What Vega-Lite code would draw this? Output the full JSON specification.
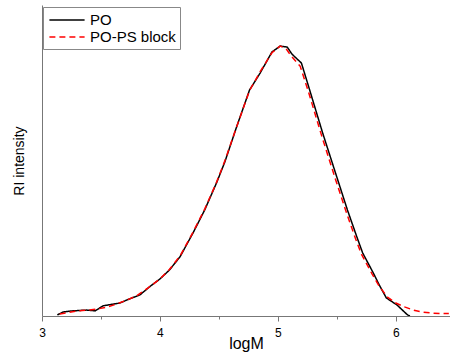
{
  "$schema": "https://vega.github.io/schema/vega-lite/v6.json",
  "width": 408,
  "height": 311,
  "autosize": {"type": "none"},
  "padding": {"left": 42, "top": 5, "right": 0, "bottom": 36},
  "background": "white",
  "config": {
    "view": {"stroke": null},
    "font": "Liberation Sans",
    "axis": {"grid": false, "domainColor": "#777", "tickColor": "#777", "labelColor": "#000", "titleColor": "#000", "titleFontWeight": "normal", "labelFontSize": 12, "titleFontSize": 14, "labelFont": "Liberation Sans", "titleFont": "Liberation Sans"}
  },
  "data": {"values": [
    {"logM": 3.13, "I": 0.004, "s": "PO"},
    {"logM": 3.18, "I": 0.015, "s": "PO"},
    {"logM": 3.26, "I": 0.019, "s": "PO"},
    {"logM": 3.38, "I": 0.022, "s": "PO"},
    {"logM": 3.45, "I": 0.019, "s": "PO"},
    {"logM": 3.52, "I": 0.038, "s": "PO"},
    {"logM": 3.66, "I": 0.048, "s": "PO"},
    {"logM": 3.74, "I": 0.063, "s": "PO"},
    {"logM": 3.83, "I": 0.078, "s": "PO"},
    {"logM": 3.92, "I": 0.111, "s": "PO"},
    {"logM": 4.00, "I": 0.137, "s": "PO"},
    {"logM": 4.08, "I": 0.17, "s": "PO"},
    {"logM": 4.17, "I": 0.219, "s": "PO"},
    {"logM": 4.28, "I": 0.307, "s": "PO"},
    {"logM": 4.38, "I": 0.393, "s": "PO"},
    {"logM": 4.48, "I": 0.493, "s": "PO"},
    {"logM": 4.55, "I": 0.57, "s": "PO"},
    {"logM": 4.65, "I": 0.7, "s": "PO"},
    {"logM": 4.76, "I": 0.837, "s": "PO"},
    {"logM": 4.85, "I": 0.9, "s": "PO"},
    {"logM": 4.95, "I": 0.978, "s": "PO"},
    {"logM": 5.02, "I": 1.0, "s": "PO"},
    {"logM": 5.08, "I": 0.996, "s": "PO"},
    {"logM": 5.12, "I": 0.97, "s": "PO"},
    {"logM": 5.20, "I": 0.937, "s": "PO"},
    {"logM": 5.27, "I": 0.837, "s": "PO"},
    {"logM": 5.38, "I": 0.678, "s": "PO"},
    {"logM": 5.50, "I": 0.515, "s": "PO"},
    {"logM": 5.59, "I": 0.393, "s": "PO"},
    {"logM": 5.67, "I": 0.293, "s": "PO"},
    {"logM": 5.72, "I": 0.233, "s": "PO"},
    {"logM": 5.81, "I": 0.159, "s": "PO"},
    {"logM": 5.86, "I": 0.115, "s": "PO"},
    {"logM": 5.92, "I": 0.067, "s": "PO"},
    {"logM": 6.01, "I": 0.041, "s": "PO"},
    {"logM": 6.10, "I": 0.004, "s": "PO"},
    {"logM": 6.12, "I": 0.0, "s": "PO"},
    {"logM": 3.15, "I": 0.007, "s": "PO-PS block"},
    {"logM": 3.2, "I": 0.011, "s": "PO-PS block"},
    {"logM": 3.3, "I": 0.019, "s": "PO-PS block"},
    {"logM": 3.4, "I": 0.022, "s": "PO-PS block"},
    {"logM": 3.47, "I": 0.026, "s": "PO-PS block"},
    {"logM": 3.55, "I": 0.033, "s": "PO-PS block"},
    {"logM": 3.63, "I": 0.044, "s": "PO-PS block"},
    {"logM": 3.72, "I": 0.059, "s": "PO-PS block"},
    {"logM": 3.8, "I": 0.074, "s": "PO-PS block"},
    {"logM": 3.9, "I": 0.104, "s": "PO-PS block"},
    {"logM": 4.0, "I": 0.137, "s": "PO-PS block"},
    {"logM": 4.08, "I": 0.172, "s": "PO-PS block"},
    {"logM": 4.17, "I": 0.222, "s": "PO-PS block"},
    {"logM": 4.28, "I": 0.31, "s": "PO-PS block"},
    {"logM": 4.38, "I": 0.396, "s": "PO-PS block"},
    {"logM": 4.48, "I": 0.495, "s": "PO-PS block"},
    {"logM": 4.55, "I": 0.574, "s": "PO-PS block"},
    {"logM": 4.65, "I": 0.7, "s": "PO-PS block"},
    {"logM": 4.76, "I": 0.835, "s": "PO-PS block"},
    {"logM": 4.85, "I": 0.905, "s": "PO-PS block"},
    {"logM": 4.95, "I": 0.975, "s": "PO-PS block"},
    {"logM": 5.02, "I": 1.0, "s": "PO-PS block"},
    {"logM": 5.07, "I": 0.99, "s": "PO-PS block"},
    {"logM": 5.11, "I": 0.965, "s": "PO-PS block"},
    {"logM": 5.19, "I": 0.925, "s": "PO-PS block"},
    {"logM": 5.26, "I": 0.83, "s": "PO-PS block"},
    {"logM": 5.37, "I": 0.67, "s": "PO-PS block"},
    {"logM": 5.49, "I": 0.505, "s": "PO-PS block"},
    {"logM": 5.58, "I": 0.385, "s": "PO-PS block"},
    {"logM": 5.66, "I": 0.285, "s": "PO-PS block"},
    {"logM": 5.71, "I": 0.228, "s": "PO-PS block"},
    {"logM": 5.8, "I": 0.155, "s": "PO-PS block"},
    {"logM": 5.86, "I": 0.11, "s": "PO-PS block"},
    {"logM": 5.93, "I": 0.07, "s": "PO-PS block"},
    {"logM": 6.0, "I": 0.048, "s": "PO-PS block"},
    {"logM": 6.08, "I": 0.033, "s": "PO-PS block"},
    {"logM": 6.15, "I": 0.022, "s": "PO-PS block"},
    {"logM": 6.22, "I": 0.015, "s": "PO-PS block"},
    {"logM": 6.3, "I": 0.011, "s": "PO-PS block"},
    {"logM": 6.38, "I": 0.009, "s": "PO-PS block"},
    {"logM": 6.45, "I": 0.009, "s": "PO-PS block"}
  ]},
  "mark": {"type": "line", "strokeWidth": 1.5, "clip": true},
  "encoding": {
    "x": {"field": "logM", "type": "quantitative", "title": "logM",
      "scale": {"domain": [3, 6.46], "nice": false, "zero": false},
      "axis": {"values": [3, 3.5, 4, 4.5, 5, 5.5, 6], "labelExpr": "datum.value % 1 === 0 ? format(datum.value, 'd') : ''",
        "tickSize": {"condition": {"test": "datum.value % 1 === 0", "value": 5}, "value": 3},
        "labelPadding": 6, "titleFontSize": 16, "titleBaseline": "alphabetic", "titleY": 32, "labelFlush": false}},
    "y": {"field": "I", "type": "quantitative", "title": "RI intensity",
      "scale": {"domain": [0, 1.152], "nice": false},
      "axis": {"ticks": false, "labels": false, "titlePadding": 16}},
    "color": {"field": "s", "type": "nominal", "title": null,
      "scale": {"domain": ["PO", "PO-PS block"], "range": ["#000000", "#ff0000"]},
      "legend": {"orient": "none", "legendX": 1, "legendY": 2, "symbolType": "M-2.2,0H2.2", "symbolSize": 256, "symbolStrokeWidth": 1.5, "symbolOffset": 11,
        "labelFontSize": 15, "labelColor": "#000", "strokeColor": "#888", "fillColor": "white", "padding": 4, "rowPadding": 0, "labelOffset": 14, "cornerRadius": 0}},
    "strokeDash": {"field": "s", "type": "nominal", "title": null,
      "scale": {"domain": ["PO", "PO-PS block"], "range": [[1, 0], [6, 4]]},
      "legend": {"orient": "none", "legendX": 1, "legendY": 2, "symbolType": "M-2.2,0H2.2", "symbolSize": 256, "symbolOffset": 11}}
  }
}
